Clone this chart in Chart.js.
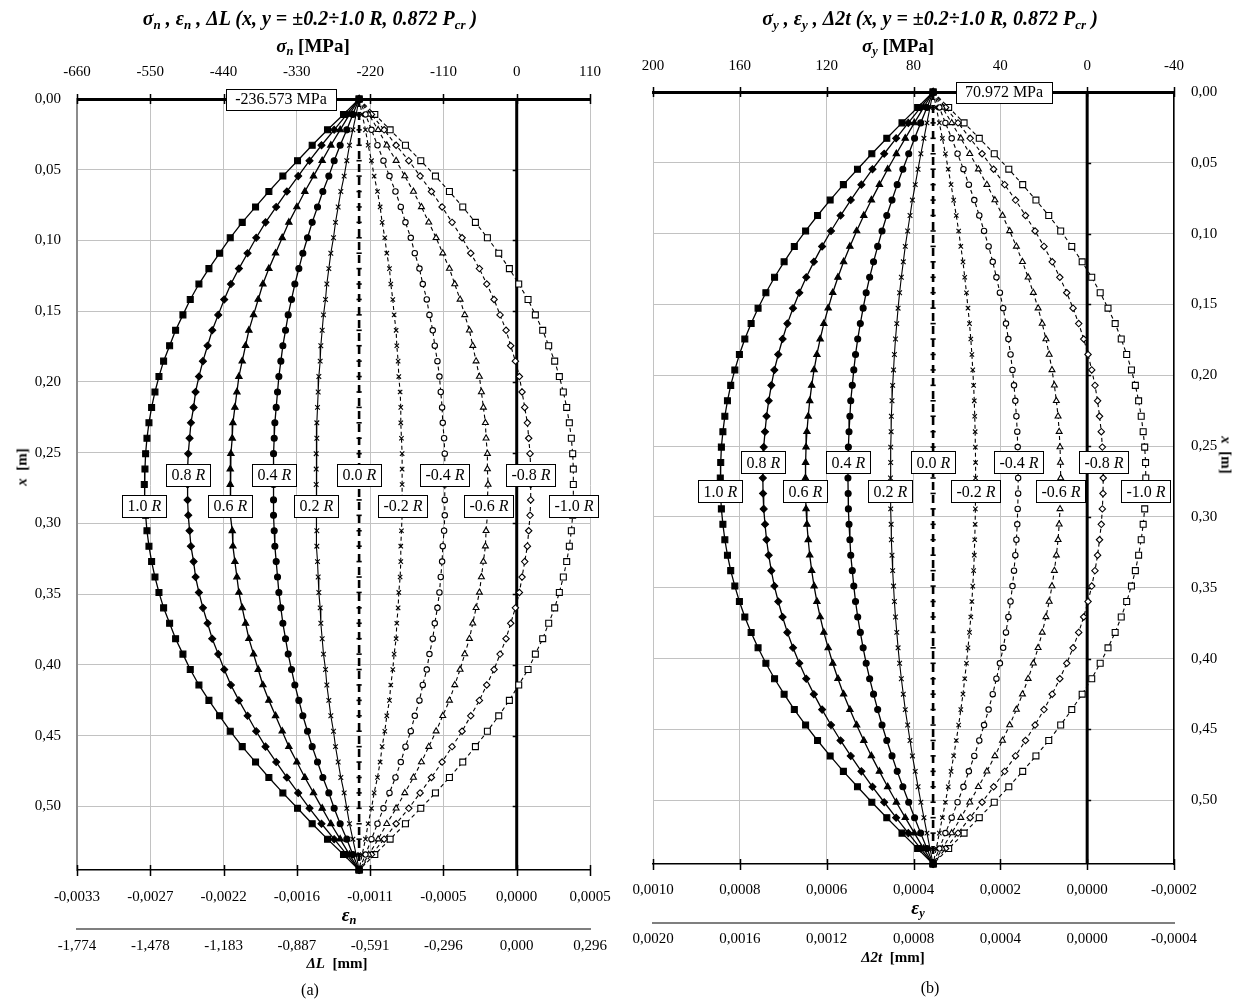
<!DOCTYPE html>
<html>
<head>
<meta charset="utf-8">
<script src="https://cdn.jsdelivr.net/npm/chart.js@4.4.0/dist/chart.umd.min.js"></script>
<style>
  body { margin: 0; background: #fff; }
  #page { position: relative; width: 1241px; height: 1000px; font-family: "Liberation Serif", "Times New Roman", serif; color: #000; }
  canvas { position: absolute; top: 0; }
  .t { position: absolute; transform: translate(-50%, -50%); white-space: nowrap; line-height: 1; }
  .title { font-size: 20px; font-weight: bold; font-style: italic; }
  .ax { font-size: 19px; font-weight: bold; }
  .eps { font-size: 19px; font-weight: bold; font-style: italic; }
  .mm { font-size: 15px; font-weight: bold; }
  .cap { font-size: 16px; }
  sub { font-size: 65%; vertical-align: -0.3em; line-height: 0; }
</style>
</head>
<body>
<div id="page">
  <canvas id="leftChart" width="620" height="1000" style="left:0"></canvas>
  <canvas id="rightChart" width="621" height="1000" style="left:620px"></canvas>

  <div class="t title" style="left:310px; top:18px">σ<sub>n</sub> , ε<sub>n</sub> , ΔL (x, y = ±0.2÷1.0 R, 0.872 P<sub>cr</sub> )</div>
  <div class="t ax" style="left:313px; top:45px"><i>σ<sub>n</sub></i> [MPa]</div>
  <div class="t eps" style="left:349px; top:914px">ε<sub>n</sub></div>
  <div class="t mm" style="left:337px; top:963px"><i>ΔL</i>&nbsp; [mm]</div>
  <div class="t cap" style="left:310px; top:990px">(a)</div>
  <div class="t mm" style="left:22px; top:467px; transform: translate(-50%,-50%) rotate(-90deg)"><i>x</i>&nbsp; [m]</div>

  <div class="t title" style="left:930px; top:18px">σ<sub>y</sub> , ε<sub>y</sub> , Δ2t (x, y = ±0.2÷1.0 R, 0.872 P<sub>cr</sub> )</div>
  <div class="t ax" style="left:898px; top:45px"><i>σ<sub>y</sub></i> [MPa]</div>
  <div class="t eps" style="left:918px; top:907px">ε<sub>y</sub></div>
  <div class="t mm" style="left:893px; top:957px"><i>Δ2t</i>&nbsp; [mm]</div>
  <div class="t cap" style="left:930px; top:988px">(b)</div>
  <div class="t mm" style="left:1226px; top:455px; transform: translate(-50%,-50%) rotate(90deg)"><i>x</i>&nbsp; [m]</div>
</div>

<script>
// positions along the member, x [m]
const xPos = [0.0000, 0.0109, 0.0218, 0.0327, 0.0436, 0.0545, 0.0654, 0.0763, 0.0872, 0.0981,
  0.1090, 0.1199, 0.1308, 0.1417, 0.1526, 0.1635, 0.1744, 0.1853, 0.1962, 0.2071,
  0.2180, 0.2289, 0.2398, 0.2507, 0.2616, 0.2725, 0.2834, 0.2943, 0.3052, 0.3161,
  0.3270, 0.3379, 0.3488, 0.3597, 0.3706, 0.3815, 0.3924, 0.4033, 0.4142, 0.4251,
  0.4360, 0.4469, 0.4578, 0.4687, 0.4796, 0.4905, 0.5014, 0.5123, 0.5232, 0.5341, 0.5450];
const xTicks = [0, 0.05, 0.10, 0.15, 0.20, 0.25, 0.30, 0.35, 0.40, 0.45, 0.50];
const xMax = 0.545;

const rLabels = ['1.0', '0.8', '0.6', '0.4', '0.2', '0.0', '-0.2', '-0.4', '-0.6', '-0.8', '-1.0'];

// (a) normal stress
const sigN0 = -236.573;
const sigNTicks = [-660, -550, -440, -330, -220, -110, 0, 110];
const epsNLabels = ['-0,0033', '-0,0027', '-0,0022', '-0,0016', '-0,0011', '-0,0005', '0,0000', '0,0005'];
const dLLabels = ['-1,774', '-1,478', '-1,183', '-0,887', '-0,591', '-0,296', '0,000', '0,296'];

const sigN_p10 = [-236.573, -260, -284, -307, -329, -351, -372, -392, -412, -430, -446, -462, -477, -490, -501, -512, -521, -530, -537, -543, -548, -552, -555, -557, -558, -559, -558, -557, -555, -552, -548, -543, -537, -530, -521, -512, -501, -490, -477, -462, -446, -430, -412, -392, -372, -351, -329, -307, -284, -260, -236.573];
const sigN_p08 = [-236.573, -255, -274, -293, -311, -328, -345, -361, -377, -391, -404, -417, -429, -439, -448, -457, -464, -471, -477, -482, -485, -489, -491, -493, -494, -494, -494, -493, -491, -489, -485, -482, -477, -471, -464, -457, -448, -439, -429, -417, -404, -391, -377, -361, -345, -328, -311, -293, -274, -255, -236.573];
const sigN_p06 = [-236.573, -251, -265, -279, -292, -305, -318, -330, -342, -352, -362, -372, -381, -388, -395, -402, -407, -412, -417, -420, -423, -426, -427, -429, -430, -430, -430, -429, -427, -426, -423, -420, -417, -412, -407, -402, -395, -388, -381, -372, -362, -352, -342, -330, -318, -305, -292, -279, -265, -251, -236.573];
const sigN_p04 = [-236.573, -246, -255, -265, -274, -282, -291, -299, -307, -314, -321, -327, -333, -338, -343, -347, -351, -354, -357, -359, -361, -363, -364, -365, -365, -365, -365, -365, -364, -363, -361, -359, -357, -354, -351, -347, -343, -338, -333, -327, -321, -314, -307, -299, -291, -282, -274, -265, -255, -246, -236.573];
const sigN_p02 = [-236.573, -241, -246, -251, -255, -259, -264, -268, -272, -275, -279, -282, -285, -287, -290, -292, -294, -295, -297, -298, -299, -300, -300, -301, -301, -301, -301, -301, -300, -300, -299, -298, -297, -295, -294, -292, -290, -287, -285, -282, -279, -275, -272, -268, -264, -259, -255, -251, -246, -241, -236.573];
const sigN_00 = [-236.573, -236.573, -236.573, -236.573, -236.573, -236.573, -236.573, -236.573, -236.573, -236.573, -236.573, -236.573, -236.573, -236.573, -236.573, -236.573, -236.573, -236.573, -236.573, -236.573, -236.573, -236.573, -236.573, -236.573, -236.573, -236.573, -236.573, -236.573, -236.573, -236.573, -236.573, -236.573, -236.573, -236.573, -236.573, -236.573, -236.573, -236.573, -236.573, -236.573, -236.573, -236.573, -236.573, -236.573, -236.573, -236.573, -236.573, -236.573, -236.573, -236.573, -236.573];
const sigN_m02 = [-236.573, -232, -227, -223, -218, -214, -209, -205, -202, -198, -195, -191, -189, -186, -184, -181, -180, -178, -177, -175, -174, -174, -173, -172, -172, -172, -172, -172, -173, -174, -174, -175, -177, -178, -180, -181, -184, -186, -189, -191, -195, -198, -202, -205, -209, -214, -218, -223, -227, -232, -236.573];
const sigN_m04 = [-236.573, -227, -218, -209, -200, -191, -182, -174, -167, -159, -153, -146, -141, -135, -131, -126, -123, -119, -116, -114, -112, -111, -109, -108, -108, -108, -108, -108, -109, -111, -112, -114, -116, -119, -123, -126, -131, -135, -141, -146, -153, -159, -167, -174, -182, -191, -200, -209, -218, -227, -236.573];
const sigN_m06 = [-236.573, -222, -208, -195, -181, -168, -155, -143, -132, -121, -111, -101, -93, -85, -78, -71, -66, -61, -56, -53, -50, -47, -46, -44, -44, -43, -44, -44, -46, -47, -50, -53, -56, -61, -66, -71, -78, -85, -93, -101, -111, -121, -132, -143, -155, -168, -181, -195, -208, -222, -236.573];
const sigN_m08 = [-236.573, -218, -199, -181, -162, -145, -128, -112, -97, -82, -69, -56, -45, -34, -25, -16, -9, -2, 4, 8, 12, 16, 18, 20, 21, 21, 21, 20, 18, 16, 12, 8, 4, -2, -9, -16, -25, -34, -45, -56, -69, -82, -97, -112, -128, -145, -162, -181, -199, -218, -236.573];
const sigN_m10 = [-236.573, -213, -190, -167, -144, -122, -101, -81, -62, -44, -27, -11, 3, 17, 28, 39, 48, 57, 64, 70, 75, 79, 82, 84, 85, 85, 85, 84, 82, 79, 75, 70, 64, 57, 48, 39, 28, 17, 3, -11, -27, -44, -62, -81, -101, -122, -144, -167, -190, -213, -236.573];

// (b) transverse stress
const sigY0 = 70.972;
const sigYTicks = [-40, 0, 40, 80, 120, 160, 200];
const epsYLabels = ['-0,0002', '0,0000', '0,0002', '0,0004', '0,0006', '0,0008', '0,0010'];
const d2tLabels = ['-0,0004', '0,0000', '0,0004', '0,0008', '0,0012', '0,0016', '0,0020'];

const sigY_p10 = [70.972, 78.1, 85.3, 92.3, 99.2, 105.8, 112.3, 118.4, 124.2, 129.7, 134.9, 139.6, 144.0, 148.0, 151.6, 154.8, 157.7, 160.2, 162.3, 164.2, 165.7, 166.9, 167.8, 168.5, 168.8, 169.0, 168.8, 168.5, 167.8, 166.9, 165.7, 164.2, 162.3, 160.2, 157.7, 154.8, 151.6, 148.0, 144.0, 139.6, 134.9, 129.7, 124.2, 118.4, 112.3, 105.8, 99.2, 92.3, 85.3, 78.1, 70.972];
const sigY_p08 = [70.972, 76.7, 82.4, 88.0, 93.5, 98.9, 104.0, 108.9, 113.6, 118.0, 122.1, 125.9, 129.4, 132.6, 135.5, 138.1, 140.3, 142.3, 144.1, 145.5, 146.7, 147.7, 148.4, 149.0, 149.3, 149.4, 149.3, 149.0, 148.4, 147.7, 146.7, 145.5, 144.1, 142.3, 140.3, 138.1, 135.5, 132.6, 129.4, 125.9, 122.1, 118.0, 113.6, 108.9, 104.0, 98.9, 93.5, 88.0, 82.4, 76.7, 70.972];
const sigY_p06 = [70.972, 75.3, 79.6, 83.8, 87.9, 91.9, 95.7, 99.4, 102.9, 106.2, 109.3, 112.2, 114.8, 117.2, 119.3, 121.3, 123.0, 124.5, 125.8, 126.9, 127.8, 128.5, 129.1, 129.5, 129.7, 129.8, 129.7, 129.5, 129.1, 128.5, 127.8, 126.9, 125.8, 124.5, 123.0, 121.3, 119.3, 117.2, 114.8, 112.2, 109.3, 106.2, 102.9, 99.4, 95.7, 91.9, 87.9, 83.8, 79.6, 75.3, 70.972];
const sigY_p04 = [70.972, 73.8, 76.7, 79.5, 82.2, 84.9, 87.5, 89.9, 92.3, 94.5, 96.5, 98.4, 100.2, 101.8, 103.2, 104.5, 105.7, 106.7, 107.5, 108.2, 108.9, 109.3, 109.7, 110.0, 110.1, 110.2, 110.1, 110.0, 109.7, 109.3, 108.9, 108.2, 107.5, 106.7, 105.7, 104.5, 103.2, 101.8, 100.2, 98.4, 96.5, 94.5, 92.3, 89.9, 87.5, 84.9, 82.2, 79.5, 76.7, 73.8, 70.972];
const sigY_p02 = [70.972, 72.4, 73.8, 75.2, 76.6, 77.9, 79.2, 80.5, 81.6, 82.7, 83.8, 84.7, 85.6, 86.4, 87.1, 87.7, 88.3, 88.8, 89.2, 89.6, 89.9, 90.2, 90.3, 90.5, 90.5, 90.6, 90.5, 90.5, 90.3, 90.2, 89.9, 89.6, 89.2, 88.8, 88.3, 87.7, 87.1, 86.4, 85.6, 84.7, 83.8, 82.7, 81.6, 80.5, 79.2, 77.9, 76.6, 75.2, 73.8, 72.4, 70.972];
const sigY_00 = [70.972, 70.972, 70.972, 70.972, 70.972, 70.972, 70.972, 70.972, 70.972, 70.972, 70.972, 70.972, 70.972, 70.972, 70.972, 70.972, 70.972, 70.972, 70.972, 70.972, 70.972, 70.972, 70.972, 70.972, 70.972, 70.972, 70.972, 70.972, 70.972, 70.972, 70.972, 70.972, 70.972, 70.972, 70.972, 70.972, 70.972, 70.972, 70.972, 70.972, 70.972, 70.972, 70.972, 70.972, 70.972, 70.972, 70.972, 70.972, 70.972, 70.972, 70.972];
const sigY_m02 = [70.972, 69.5, 68.1, 66.7, 65.3, 64.0, 62.7, 61.5, 60.3, 59.2, 58.2, 57.2, 56.4, 55.6, 54.9, 54.2, 53.6, 53.1, 52.7, 52.3, 52.0, 51.8, 51.6, 51.5, 51.4, 51.4, 51.4, 51.5, 51.6, 51.8, 52.0, 52.3, 52.7, 53.1, 53.6, 54.2, 54.9, 55.6, 56.4, 57.2, 58.2, 59.2, 60.3, 61.5, 62.7, 64.0, 65.3, 66.7, 68.1, 69.5, 70.972];
const sigY_m04 = [70.972, 68.1, 65.3, 62.4, 59.7, 57.0, 54.5, 52.0, 49.7, 47.5, 45.4, 43.5, 41.8, 40.2, 38.7, 37.4, 36.3, 35.3, 34.4, 33.7, 33.1, 32.6, 32.2, 32.0, 31.8, 31.8, 31.8, 32.0, 32.2, 32.6, 33.1, 33.7, 34.4, 35.3, 36.3, 37.4, 38.7, 40.2, 41.8, 43.5, 45.4, 47.5, 49.7, 52.0, 54.5, 57.0, 59.7, 62.4, 65.3, 68.1, 70.972];
const sigY_m06 = [70.972, 66.7, 62.4, 58.2, 54.1, 50.1, 46.2, 42.5, 39.0, 35.7, 32.6, 29.8, 27.2, 24.8, 22.6, 20.7, 19.0, 17.5, 16.2, 15.1, 14.2, 13.4, 12.9, 12.5, 12.3, 12.2, 12.3, 12.5, 12.9, 13.4, 14.2, 15.1, 16.2, 17.5, 19.0, 20.7, 22.6, 24.8, 27.2, 29.8, 32.6, 35.7, 39.0, 42.5, 46.2, 50.1, 54.1, 58.2, 62.4, 66.7, 70.972];
const sigY_m08 = [70.972, 65.2, 59.5, 53.9, 48.4, 43.1, 38.0, 33.0, 28.4, 24.0, 19.9, 16.1, 12.6, 9.4, 6.5, 3.9, 1.6, -0.4, -2.1, -3.6, -4.8, -5.7, -6.5, -7.0, -7.3, -7.4, -7.3, -7.0, -6.5, -5.7, -4.8, -3.6, -2.1, -0.4, 1.6, 3.9, 6.5, 9.4, 12.6, 16.1, 19.9, 24.0, 28.4, 33.0, 38.0, 43.1, 48.4, 53.9, 59.5, 65.2, 70.972];
const sigY_m10 = [70.972, 63.8, 56.7, 49.7, 42.8, 36.1, 29.7, 23.6, 17.7, 12.2, 7.1, 2.3, -2.1, -6.0, -9.6, -12.9, -15.7, -18.2, -20.4, -22.2, -23.7, -24.9, -25.8, -26.5, -26.9, -27.0, -26.9, -26.5, -25.8, -24.9, -23.7, -22.2, -20.4, -18.2, -15.7, -12.9, -9.6, -6.0, -2.1, 2.3, 7.1, 12.2, 17.7, 23.6, 29.7, 36.1, 42.8, 49.7, 56.7, 63.8, 70.972];

// marker and line look of each curve, same order as rLabels
const markStyles = [
  { shape: 'rect',     r: 4.2, fill: '#000', lw: 1.3, dash: [] },
  { shape: 'rectRot',  r: 3.5, fill: '#000', lw: 1.3, dash: [] },
  { shape: 'triangle', r: 3.7, fill: '#000', lw: 1.3, dash: [] },
  { shape: 'circle',   r: 3.0, fill: '#000', lw: 1.3, dash: [] },
  { shape: 'crossRot', r: 3.3, fill: '#000', lw: 1.1, dash: [] },
  { shape: 'line',     r: 2.6, fill: '#000', lw: 2.6, dash: [8, 5] },
  { shape: 'crossRot', r: 3.1, fill: '#000', lw: 1.1, dash: [4, 3] },
  { shape: 'circle',   r: 2.7, fill: '#fff', lw: 1.1, dash: [4, 3] },
  { shape: 'triangle', r: 3.4, fill: '#fff', lw: 1.1, dash: [4, 3] },
  { shape: 'rectRot',  r: 3.2, fill: '#fff', lw: 1.1, dash: [4, 3] },
  { shape: 'rect',     r: 4.2, fill: '#fff', lw: 1.1, dash: [4, 3] }
];

Chart.defaults.font.family = '"Liberation Serif", "Times New Roman", serif';
Chart.defaults.font.size = 15;
Chart.defaults.color = '#000';

const GRID = '#c2c2c2';
const FONT = '"Liberation Serif", "Times New Roman", serif';

function rBox(ctx, cx, cy, num) {
  ctx.font = '16px ' + FONT;
  const a = num + ' ';
  const wa = ctx.measureText(a).width;
  ctx.font = 'italic 16px ' + FONT;
  const wb = ctx.measureText('R').width;
  const w = Math.round(wa + wb + 10), h = 22;
  const x = Math.round(cx - w / 2) + 0.5, y = Math.round(cy - h / 2) + 0.5;
  ctx.fillStyle = '#fff';
  ctx.fillRect(x, y, w, h);
  ctx.strokeStyle = '#000';
  ctx.lineWidth = 1;
  ctx.strokeRect(x, y, w, h);
  ctx.fillStyle = '#000';
  ctx.textBaseline = 'middle';
  ctx.textAlign = 'left';
  ctx.font = '16px ' + FONT;
  ctx.fillText(a, x + 5, cy + 1);
  ctx.font = 'italic 16px ' + FONT;
  ctx.fillText('R', x + 5 + wa, cy + 1);
}

const decor = {
  id: 'decor',
  beforeDatasetsDraw(chart, args, o) {
    const { ctx, chartArea: a, scales } = chart;
    const sx = scales.x, sy = scales.y;
    const x0 = sx.getPixelForValue(0);
    ctx.save();
    ctx.strokeStyle = '#000';
    // zero stress line
    ctx.lineWidth = 3;
    ctx.beginPath();
    ctx.moveTo(x0, a.top);
    ctx.lineTo(x0, a.bottom);
    ctx.stroke();
    ctx.lineWidth = 1.5;
    xTicks.forEach(v => {
      const y = Math.round(sy.getPixelForValue(v)) + 0.5;
      ctx.beginPath();
      ctx.moveTo(x0, y);
      ctx.lineTo(x0 + o.zeroMark, y);
      ctx.stroke();
    });
    // tick marks crossing the top and bottom axis lines
    o.ticks.forEach(v => {
      const px = Math.round(sx.getPixelForValue(v)) + 0.5;
      ctx.beginPath();
      ctx.moveTo(px, a.top - 5);
      ctx.lineTo(px, a.top + 5);
      ctx.moveTo(px, a.bottom - 5);
      ctx.lineTo(px, a.bottom + 6);
      ctx.stroke();
    });
    ctx.restore();
  },
  afterDatasetsDraw(chart, args, o) {
    const { ctx, chartArea: a, scales } = chart;
    const sx = scales.x, sy = scales.y;
    ctx.save();
    // curve names at mid-length, alternating rows
    o.series.forEach((vals, i) => {
      const cx = sx.getPixelForValue(vals[25]);
      const cy = sy.getPixelForValue(i % 2 === 0 ? o.lowRow : o.highRow);
      rBox(ctx, cx, cy, rLabels[i]);
    });
    // stress value at the loaded end
    const txt = o.value + ' MPa';
    ctx.font = '16px ' + FONT;
    const w = Math.round(ctx.measureText(txt).width + 18), h = 21;
    const ax = sx.getPixelForValue(o.value);
    const bx = (o.boxSide < 0 ? ax - 23 - w : ax + 23);
    const by = a.top - h / 2;
    ctx.fillStyle = '#fff';
    ctx.fillRect(Math.round(bx) + 0.5, Math.round(by) + 0.5, w, h);
    ctx.strokeStyle = '#000';
    ctx.lineWidth = 1;
    ctx.strokeRect(Math.round(bx) + 0.5, Math.round(by) + 0.5, w, h);
    ctx.fillStyle = '#000';
    ctx.textAlign = 'center';
    ctx.textBaseline = 'middle';
    ctx.fillText(txt, Math.round(bx) + w / 2, a.top + 1);
    ctx.restore();
  }
};

function buildChart(id, c) {
  const datasets = c.series.map((vals, i) => {
    const st = markStyles[i];
    return {
      label: rLabels[i] + ' R',
      data: vals.map((v, k) => ({ x: v, y: xPos[k] })),
      showLine: true,
      borderColor: '#000',
      borderWidth: st.lw,
      borderDash: st.dash,
      pointStyle: st.shape,
      pointRadius: st.r,
      pointBackgroundColor: st.fill,
      pointBorderColor: '#000',
      pointBorderWidth: st.shape === 'line' ? 1.6 : 1.1,
      clip: false
    };
  });
  const ticksOf = list => s => { s.ticks = list.map(v => ({ value: v })); };
  const pick = labels => v => labels[c.ticks.indexOf(v)];
  // fixed box height, and no extra side room asked for by the end labels
  const fitH = h => s => { s.height = h; s.paddingLeft = 0; s.paddingRight = 0; };
  return new Chart(document.getElementById(id), {
    type: 'scatter',
    data: { datasets },
    options: {
      responsive: false,
      animation: false,
      layout: { padding: c.padding },
      plugins: {
        legend: { display: false },
        tooltip: { enabled: false },
        decor: {
          ticks: c.ticks, series: c.series, value: c.value, boxSide: c.boxSide,
          zeroMark: c.zeroMark, lowRow: c.lowRow, highRow: c.highRow
        }
      },
      scales: {
        x: {
          type: 'linear', position: 'top', min: c.min, max: c.max, reverse: c.reverse,
          afterBuildTicks: ticksOf(c.ticks),
          afterFit: fitH(c.topH),
          ticks: { padding: c.topPad, maxRotation: 0, autoSkip: false, callback: v => String(v) },
          grid: { color: GRID, lineWidth: 1, drawTicks: false },
          border: { color: '#000', width: 3 }
        },
        eps: {
          type: 'linear', position: 'bottom', weight: 0, min: c.min, max: c.max, reverse: c.reverse,
          afterBuildTicks: ticksOf(c.ticks),
          afterFit: fitH(59),
          ticks: { padding: c.epsPad, maxRotation: 0, autoSkip: false, callback: pick(c.epsLabels) },
          grid: { drawOnChartArea: false, drawTicks: false },
          border: { color: '#000', width: 1.5 }
        },
        dl: {
          type: 'linear', position: 'bottom', weight: 1, min: c.min, max: c.max, reverse: c.reverse,
          afterBuildTicks: ticksOf(c.ticks),
          afterFit: fitH(30),
          ticks: { padding: c.dlPad, maxRotation: 0, autoSkip: false, callback: pick(c.dlLabels) },
          grid: { drawOnChartArea: false, drawTicks: false },
          border: { color: '#7f7f7f', width: 2 }
        },
        y: {
          type: 'linear', position: c.yPos, reverse: true, min: 0, max: xMax,
          afterBuildTicks: ticksOf(xTicks),
          afterFit: s => { s.width = c.yW; s.paddingTop = 0; s.paddingBottom = 0; },
          ticks: { padding: c.yPad, callback: v => v.toFixed(2).replace('.', ',') },
          grid: { color: GRID, lineWidth: 1, drawTicks: false },
          border: { color: c.yBorder, width: c.yBorderW }
        }
      }
    },
    plugins: [decor]
  });
}

buildChart('leftChart', {
  series: [sigN_p10, sigN_p08, sigN_p06, sigN_p04, sigN_p02, sigN_00, sigN_m02, sigN_m04, sigN_m06, sigN_m08, sigN_m10],
  ticks: sigNTicks, epsLabels: epsNLabels, dlLabels: dLLabels,
  min: -660, max: 110, reverse: false,
  padding: { left: 0, right: 30, top: 59, bottom: 41 },
  topH: 40, topPad: 18, epsPad: 18, dlPad: 8,
  yPos: 'left', yW: 77, yPad: 16, yBorder: '#8c8c8c', yBorderW: 2,
  value: sigN0, boxSide: -1, zeroMark: -4,
  lowRow: 0.2877, highRow: 0.2658
});

buildChart('rightChart', {
  series: [sigY_p10, sigY_p08, sigY_p06, sigY_p04, sigY_p02, sigY_00, sigY_m02, sigY_m04, sigY_m06, sigY_m08, sigY_m10],
  ticks: sigYTicks, epsLabels: epsYLabels, dlLabels: d2tLabels,
  min: -40, max: 200, reverse: true,
  padding: { left: 33, right: 0, top: 57, bottom: 47 },
  topH: 35, topPad: 17, epsPad: 17, dlPad: 7,
  yPos: 'right', yW: 67, yPad: 17, yBorder: '#000', yBorderW: 1.5,
  value: sigY0, boxSide: 1, zeroMark: 4,
  lowRow: 0.2820, highRow: 0.2615
});
</script>
</body>
</html>
